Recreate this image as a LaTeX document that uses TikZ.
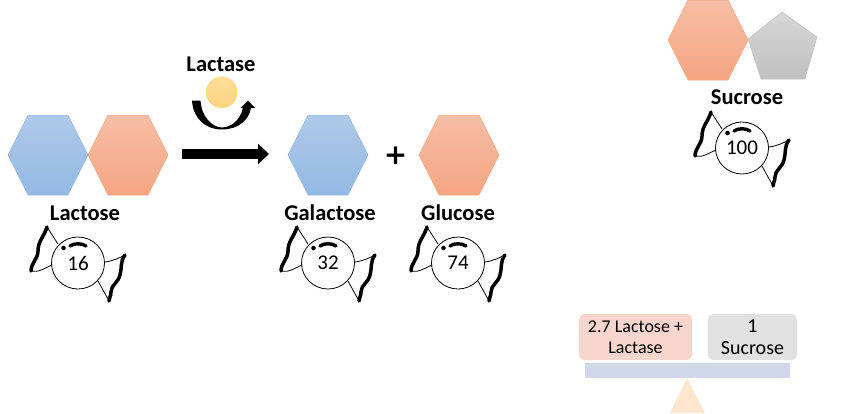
\documentclass[tikz,border=0pt]{standalone}
\usepackage{fontspec}
\setmainfont{Carlito}
\newfontfamily\plusfont{DejaVu Sans}
\usetikzlibrary{arrows.meta,shapes.geometric}
\definecolor{hexbluetop}{HTML}{AEC9E9}
\definecolor{hexbluebot}{HTML}{94B9E3}
\definecolor{hexorangetop}{HTML}{F6BEA5}
\definecolor{hexorangebot}{HTML}{F5A582}
\definecolor{pentop}{HTML}{D6D6D6}
\definecolor{penbot}{HTML}{C0C0C0}
\definecolor{enzymetop}{HTML}{FEDE9C}
\definecolor{enzymebot}{HTML}{FDD37F}
\definecolor{enzymeline}{HTML}{F9D26E}
\definecolor{leftfill}{HTML}{F9D6CD}
\definecolor{rightfill}{HTML}{E1E1E1}
\definecolor{beamfill}{HTML}{D0D7EA}
\definecolor{standfill}{HTML}{FDE6CE}
\tikzset{
  title/.style={font=\bfseries\fontsize{22.5}{26}\selectfont,inner sep=0pt},
  panbox/.style={rounded corners=5pt,minimum height=46pt,align=center,inner sep=0pt},
  hexblue/.style={top color=hexbluetop,bottom color=hexbluebot,draw=hexbluebot,line width=0.5pt},
  hexorange/.style={top color=hexorangetop,bottom color=hexorangebot,draw=hexorangebot,line width=0.5pt},
  hexa/.pic={\path[#1] (-40,0) -- (-20,-40) -- (20,-40) -- (40,0) -- (20,40) -- (-20,40) -- cycle;},
  candy/.pic={
    \node[draw,ellipse,minimum width=53pt,minimum height=52pt,inner sep=0pt,line width=0.8pt,font=\fontsize{21}{24}\selectfont] (-body) at (0,0) {\raisebox{-2pt}{#1}};
    \draw[line width=0.8pt] (-20,-19) -- (-31,-36);
    \draw[line width=0.8pt] (-47,8) .. controls (-40,10) and (-33,5) .. (-26,2);
    \draw[line width=0.8pt] (47,-8) .. controls (41,-5) and (35,-2) .. (27,-1);
    \draw[line width=0.8pt] (31,38) -- (20,18);
    \draw[line width=3.5pt,line cap=round] (-31,-36) .. controls (-34,-26) and (-40,-22) .. (-40,-12) .. controls (-40,-4) and (-47,0) .. (-47,8);
    \draw[line width=3.5pt,line cap=round] (47,-8) .. controls (42,-2) and (44,6) .. (42,12) .. controls (40,20) and (33,22) .. (33,29) .. controls (33,33) and (31,35) .. (31,38);
    \draw[line width=3.4pt,line cap=round] (-8,-17) .. controls (-4,-20) and (4,-20) .. (8,-17);
    \fill (-14.5,-15) circle (2.3pt);
  }
}
\begin{document}
\begin{tikzpicture}[x=1pt,y=-1pt]
\useasboundingbox (0,0) rectangle (851,413);
% lactose side
\pic at (48,155) {hexa=hexblue};
\pic at (128,155) {hexa=hexorange};
\node[title] (lactose) at (85,213) {Lactose};
\pic (lactosecandy) at (78,263) {candy=16};
% enzyme
\node[title] (lactase) at (221,64) {Lactase};
\node[circle,minimum size=31pt,inner sep=0pt,top color=enzymetop,bottom color=enzymebot,draw=enzymeline] (enzyme) at (221.7,92.3) {};
\fill (192,100.5) .. controls (193,118) and (205,129.5) .. (222,129.5) .. controls (238,129.5) and (249,120) .. (251,108) -- (255,108) -- (248,100.5) -- (240.7,108) -- (243,108) .. controls (240,120) and (232,127) .. (222,127.5) .. controls (212,127.5) and (201,116) .. (200.6,100.5) -- cycle;
% reaction arrow
\coordinate (arrowstart) at (182,154);
\coordinate (arrowend) at (269,154);
\draw[line width=10pt,-{Triangle[length=11pt,width=20pt]}] (arrowstart) -- (arrowend);
% products
\pic at (328,155) {hexa=hexblue};
\node[title] (galactose) at (330,213) {Galactose};
\pic (galactosecandy) at (328,263) {candy=32};
\node[font=\plusfont\bfseries\fontsize{28}{28}\selectfont,inner sep=0pt] (plus) at (395.5,155.5) {+};
\pic at (459,155) {hexa=hexorange};
\node[title] (glucose) at (458,213) {Glucose};
\pic (glucosecandy) at (458,263) {candy=74};
% sucrose
\pic at (708,40) {hexa=hexorange};
\path[top color=pentop,bottom color=penbot,draw=penbot,line width=0.5pt] (748,39) -- (782,12) -- (817,37) -- (805,79) -- (761,79) -- cycle;
\node[title] (sucrose) at (747,97) {Sucrose};
\pic (sucrosecandy) at (742,148) {candy=100};
% balance
\node[panbox,fill=leftfill,minimum width=113pt,font=\fontsize{18}{21}\selectfont] (leftpan) at (635.5,337) {2.7 Lactose +\\Lactase};
\node[panbox,fill=rightfill,minimum width=89pt,font=\fontsize{20}{22}\selectfont] (rightpan) at (752.5,337) {1\\Sucrose};
\node[fill=beamfill,minimum width=205pt,minimum height=15pt,inner sep=0pt] (beam) at (687.5,370.5) {};
\fill[standfill] (687,378) -- (705,413) -- (670,413) -- cycle;
\end{tikzpicture}
\end{document}
